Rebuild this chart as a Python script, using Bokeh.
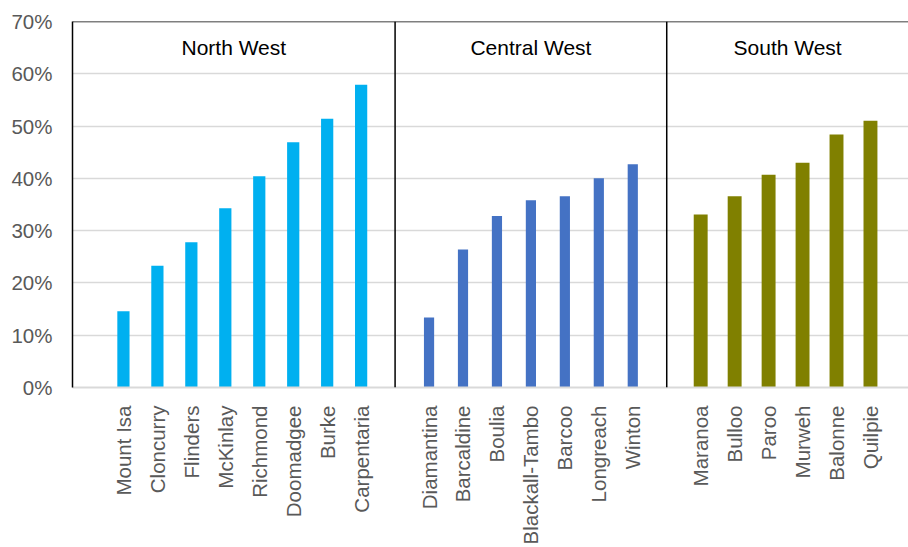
from bokeh.plotting import figure
from bokeh.models import Range1d, FixedTicker, PrintfTickFormatter, Span, Label, ColumnDataSource
from bokeh.embed import file_html
from bokeh.resources import INLINE
import math

# ---- data ----
group_names = ["North West", "Central West", "South West"]
nw_names = ["Mount Isa", "Cloncurry", "Flinders", "McKinlay", "Richmond", "Doomadgee", "Burke", "Carpentaria"]
nw_values = [14.6, 23.3, 27.8, 34.3, 40.4, 46.9, 51.4, 57.9]
cw_names = ["Diamantina", "Barcaldine", "Boulia", "Blackall-Tambo", "Barcoo", "Longreach", "Winton"]
cw_values = [13.4, 26.4, 32.8, 35.8, 36.6, 40.0, 42.7]
sw_names = ["Maranoa", "Bulloo", "Paroo", "Murweh", "Balonne", "Quilpie"]
sw_values = [33.1, 36.6, 40.7, 43.0, 48.4, 51.0]
y_ticks = [0, 10, 20, 30, 40, 50, 60, 70]

# ---- style ----
colors = ["#00B0F0", "#4472C4", "#808000"]
bar_widths = [0.36, 0.30, 0.41]
FONT = "Liberation Sans"
GREY = "#595959"
X_END = 24.12

p = figure(width=908, height=547, output_backend="svg", toolbar_location=None,
           x_range=Range1d(-0.5, X_END), y_range=Range1d(0, 70),
           min_border_left=72, min_border_right=0, min_border_top=21, min_border_bottom=158)
p.outline_line_color = None
p.background_fill_color = "white"
p.border_fill_color = "white"

groups = [(nw_names, nw_values), (cw_names, cw_values), (sw_names, sw_values)]
tick_pos = []
tick_labels = {}
dividers = []
pos = 1
for gi, (names, vals) in enumerate(groups):
    xs = list(range(pos, pos + len(names)))
    src = ColumnDataSource(dict(x=xs, top=vals))
    p.vbar(x="x", top="top", bottom=0, width=bar_widths[gi], source=src,
           fill_color=colors[gi], line_color=None)
    for x, n in zip(xs, names):
        tick_pos.append(x)
        tick_labels[x] = n
    pos += len(names)
    if gi < len(groups) - 1:
        dividers.append(pos)
    pos += 1

# axes
p.xaxis.ticker = FixedTicker(ticks=tick_pos)
p.xaxis.major_label_overrides = tick_labels
p.xaxis.major_label_orientation = math.pi / 2
p.xaxis.major_label_text_font = FONT
p.xaxis.major_label_text_font_size = "20.5px"
p.xaxis.major_label_text_color = GREY
p.xaxis.major_label_standoff = 12
p.xaxis.major_tick_line_color = None
p.xaxis.minor_tick_line_color = None
p.xaxis.axis_line_color = "#D9D9D9"
p.xaxis.axis_line_width = 2

p.yaxis.ticker = FixedTicker(ticks=y_ticks)
p.yaxis.formatter = PrintfTickFormatter(format="%d%%")
p.yaxis.major_label_text_font = FONT
p.yaxis.major_label_text_font_size = "20.5px"
p.yaxis.major_label_text_color = GREY
p.yaxis.major_label_standoff = 14
p.yaxis.major_tick_line_color = None
p.yaxis.minor_tick_line_color = None
p.yaxis.axis_line_color = "black"
p.yaxis.axis_line_width = 1.5

p.xgrid.grid_line_color = None
p.ygrid.ticker = FixedTicker(ticks=y_ticks[1:])
p.ygrid.grid_line_color = "#D9D9D9"
p.ygrid.grid_line_width = 1.5

# frame top line and dividers
p.add_layout(Span(location=70, dimension="width", line_color="black", line_width=1.5))
for d in dividers:
    p.add_layout(Span(location=d, dimension="height", line_color="black", line_width=1.5))

# group titles
bounds = [-0.5] + dividers + [X_END]
for gi, name in enumerate(group_names):
    cx = (bounds[gi] + bounds[gi + 1]) / 2
    p.add_layout(Label(x=cx, y=65, text=name, text_align="center", text_baseline="middle",
                       text_font=FONT, text_font_size="21px", text_color="black"))

open("out.html", "w").write(file_html(p, INLINE))
